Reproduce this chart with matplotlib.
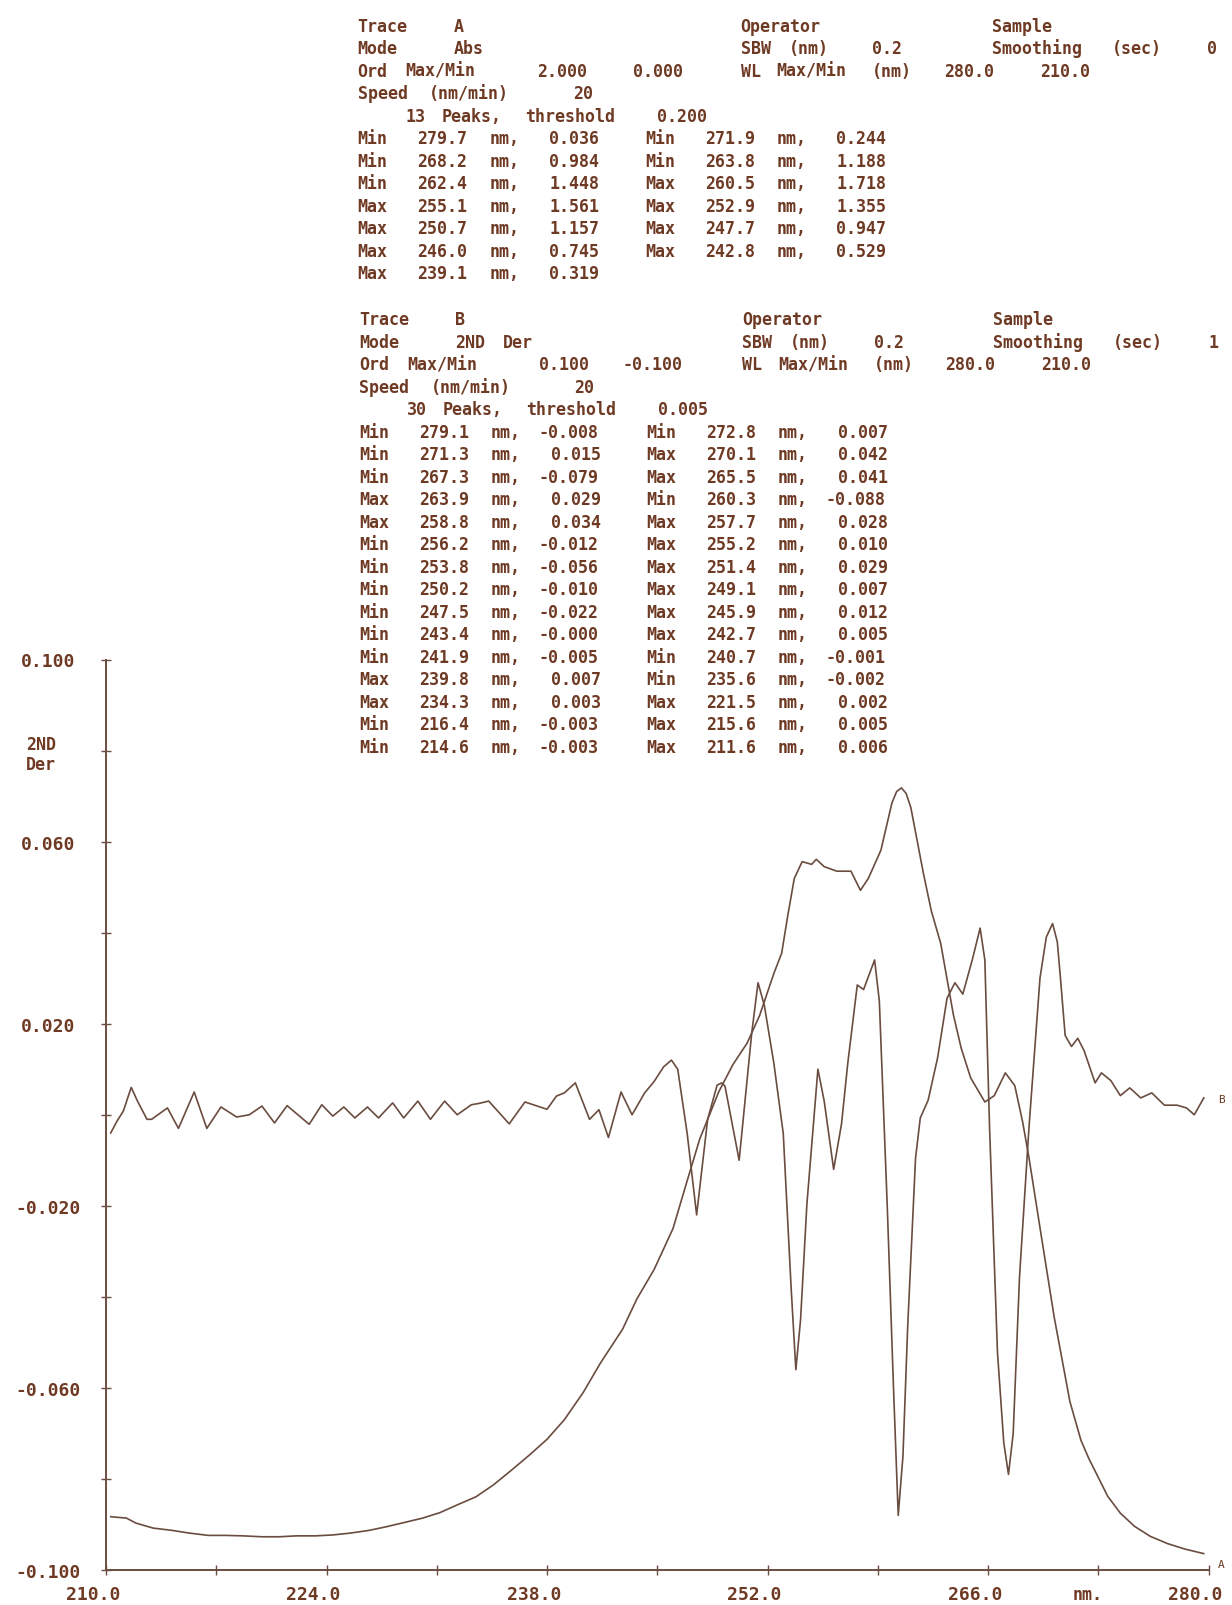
import re
import matplotlib
matplotlib.use("Agg")
import matplotlib.pyplot as plt
import matplotlib.transforms as mtransforms
from matplotlib.ticker import MultipleLocator, FixedLocator, FormatStrFormatter

# ---- trace A : absorbance (0..2 on the same chart height) ----
a_wl = [210.3, 211.3, 211.9, 213.0, 214.2, 215.3, 216.5, 217.6, 218.7, 219.9,
        221.0, 222.1, 223.3, 224.4, 225.5, 226.7, 227.8, 228.9, 230.1, 231.2,
        232.3, 233.5, 234.6, 235.7, 236.9, 238.0, 239.1, 240.3, 241.4, 242.8,
        243.7, 244.8, 246.0, 246.9, 247.7, 248.9, 249.8, 250.7, 251.5, 252.4,
        252.9, 253.3, 253.7, 254.2, 254.8, 255.1, 255.6, 256.4, 257.3, 257.9,
        258.4, 259.2, 259.9, 260.2, 260.5, 260.8, 261.1, 261.9, 262.4, 263.0,
        263.8, 264.3, 264.9, 265.8, 266.4, 267.1, 267.7, 268.2, 268.6, 269.3,
        270.2, 271.2, 271.9, 272.4, 273.6, 274.4, 275.3, 276.3, 277.4, 278.5,
        279.7]
a_abs = [0.117, 0.114, 0.103, 0.092, 0.087, 0.081, 0.076, 0.076, 0.075, 0.073,
         0.073, 0.075, 0.075, 0.077, 0.081, 0.087, 0.095, 0.104, 0.114, 0.126,
         0.143, 0.161, 0.187, 0.218, 0.253, 0.287, 0.330, 0.390, 0.455, 0.529,
         0.595, 0.660, 0.750, 0.855, 0.947, 1.050, 1.110, 1.157, 1.218, 1.310,
         1.355, 1.440, 1.519, 1.556, 1.550, 1.561, 1.545, 1.535, 1.535, 1.493,
         1.519, 1.581, 1.685, 1.710, 1.718, 1.706, 1.675, 1.530, 1.448, 1.376,
         1.220, 1.146, 1.081, 1.028, 1.042, 1.092, 1.064, 0.984, 0.906, 0.752,
         0.556, 0.370, 0.285, 0.245, 0.162, 0.125, 0.096, 0.074, 0.058, 0.046,
         0.036]

# ---- trace B : 2nd derivative ----
b_wl = [210.3, 210.7, 211.1, 211.6, 212.0, 212.6, 212.9, 213.9, 214.6, 215.6,
        216.4, 217.3, 218.3, 219.1, 219.9, 220.7, 221.5, 222.9, 223.7, 224.4,
        225.1, 225.8, 226.6, 227.3, 228.2, 228.9, 229.8, 230.6, 231.5, 232.3,
        233.2, 233.7, 234.3, 235.6, 236.6, 238.0, 238.6, 239.1, 239.8, 240.7,
        241.3, 241.9, 242.7, 243.4, 244.2, 244.8, 245.4, 245.9, 246.3, 246.9,
        247.5, 248.2, 248.8, 249.1, 249.3, 250.2, 251.0, 251.4, 251.8, 252.4,
        253.0, 253.5, 253.8, 254.1, 254.5, 255.2, 255.6, 256.2, 256.7, 257.1,
        257.7, 258.1, 258.8, 259.1, 259.6, 260.0, 260.3, 260.6, 260.9, 261.4,
        261.7, 262.2, 262.8, 263.4, 263.9, 264.4, 265.0, 265.5, 265.8, 266.1,
        266.6, 267.0, 267.3, 267.6, 268.0, 268.6, 269.3, 269.7, 270.1, 270.4,
        270.6, 270.9, 271.3, 271.7, 272.1, 272.8, 273.2, 273.8, 274.4, 275.0,
        275.7, 276.4, 277.2, 278.0, 278.6, 279.1, 279.7]
b_der = [-0.0040, -0.0014, 0.0008, 0.0060, 0.0030, -0.0010, -0.0010, 0.0015, -0.0030, 0.0050,
         -0.0030, 0.0017, -0.0005, 0.0000, 0.0019, -0.0018, 0.0020, -0.0021, 0.0022, -0.0003,
         0.0017, -0.0007, 0.0017, -0.0007, 0.0026, -0.0007, 0.0030, -0.0010, 0.0030, 0.0000,
         0.0022, 0.0025, 0.0030, -0.0020, 0.0028, 0.0012, 0.0041, 0.0048, 0.0070, -0.0010,
         0.0011, -0.0050, 0.0050, 0.0000, 0.0048, 0.0073, 0.0105, 0.0120, 0.0100, -0.0041,
         -0.0220, -0.0010, 0.0065, 0.0070, 0.0063, -0.0100, 0.0180, 0.0290, 0.0240, 0.0114,
         -0.0041, -0.0380, -0.0560, -0.0450, -0.0197, 0.0100, 0.0030, -0.0120, -0.0020, 0.0114,
         0.0285, 0.0275, 0.0340, 0.0250, -0.0197, -0.0600, -0.0880, -0.0750, -0.0466, -0.0095,
         -0.0007, 0.0032, 0.0125, 0.0256, 0.0290, 0.0265, 0.0340, 0.0410, 0.0340, -0.0029,
         -0.0521, -0.0720, -0.0790, -0.0700, -0.0357, -0.0029, 0.0300, 0.0390, 0.0420, 0.0380,
         0.0300, 0.0174, 0.0150, 0.0168, 0.0141, 0.0070, 0.0092, 0.0075, 0.0042, 0.0059,
         0.0037, 0.0048, 0.0021, 0.0021, 0.0015, 0.0000, 0.0037]

# ---- peak tables printed above the chart ----
a_peak_kind = ['Min', 'Min', 'Min', 'Min', 'Min', 'Max', 'Max', 'Max', 'Max', 'Max', 'Max', 'Max', 'Max']
a_peak_wl = [279.7, 271.9, 268.2, 263.8, 262.4, 260.5, 255.1, 252.9, 250.7, 247.7, 246.0, 242.8, 239.1]
a_peak_val = [0.036, 0.244, 0.984, 1.188, 1.448, 1.718, 1.561, 1.355, 1.157, 0.947, 0.745, 0.529, 0.319]

b_peak_kind = ['Min', 'Min', 'Min', 'Max', 'Min', 'Max', 'Max', 'Min', 'Max', 'Max',
               'Min', 'Max', 'Min', 'Max', 'Min', 'Max', 'Min', 'Max', 'Min', 'Max',
               'Min', 'Min', 'Max', 'Min', 'Max', 'Max', 'Min', 'Max', 'Min', 'Max']
b_peak_wl = [279.1, 272.8, 271.3, 270.1, 267.3, 265.5, 263.9, 260.3, 258.8, 257.7,
             256.2, 255.2, 253.8, 251.4, 250.2, 249.1, 247.5, 245.9, 243.4, 242.7,
             241.9, 240.7, 239.8, 235.6, 234.3, 221.5, 216.4, 215.6, 214.6, 211.6]
b_peak_val = [-0.008, 0.007, 0.015, 0.042, -0.079, 0.041, 0.029, -0.088, 0.034, 0.028,
              -0.012, 0.010, -0.056, 0.029, -0.010, 0.007, -0.022, 0.012, -0.0, 0.005,
              -0.005, -0.001, 0.007, -0.002, 0.003, 0.002, -0.003, 0.005, -0.003, 0.006]

hdr_a = [
    [(0, 'Trace'), (8, 'A'), (32, 'Operator'), (53, 'Sample')],
    [(0, 'Mode'), (8, 'Abs'), (32, 'SBW (nm)'), (43, '0.2'), (53, 'Smoothing (sec)'), (71, '0')],
    [(0, 'Ord Max/Min'), (15, '2.000'), (23, '0.000'), (32, 'WL Max/Min (nm)'), (49, '280.0'), (57, '210.0')],
    [(0, 'Speed (nm/min)'), (18, '20')],
    [(4, '13 Peaks, threshold'), (25, '0.200')],
]
hdr_b = [
    [(0, 'Trace'), (8, 'B'), (32, 'Operator'), (53, 'Sample')],
    [(0, 'Mode'), (8, '2ND Der'), (32, 'SBW (nm)'), (43, '0.2'), (53, 'Smoothing (sec)'), (71, '1')],
    [(0, 'Ord Max/Min'), (15, '0.100'), (22, '-0.100'), (32, 'WL Max/Min (nm)'), (49, '280.0'), (57, '210.0')],
    [(0, 'Speed (nm/min)'), (18, '20')],
    [(4, '30 Peaks, threshold'), (25, '0.005')],
]

W, H = 1232, 1606
ink = '#6a4c40'
txt = '#6e3a24'
mono = 'DejaVu Sans Mono'

fig = plt.figure(figsize=(W / 100, H / 100), dpi=100)
fig.patch.set_facecolor('white')


def build_line(fields):
    s = ''
    for col, t in fields:
        s = s.ljust(col) + t
    return s


def peak_rows(kind, wl, val):
    rows = []
    for i in range(0, len(kind), 2):
        s = f"{kind[i]:<5}{wl[i]:5.1f} nm, {val[i]:6.3f}"
        if i + 1 < len(kind):
            s += f"   {kind[i+1]:<5}{wl[i+1]:5.1f} nm, {val[i+1]:6.3f}"
        rows.append(s)
    return rows


def put_block(lines, x0, y0, step=22.5, pitch=11.97):
    # every word goes to its printer column
    for i, line in enumerate(lines):
        y = y0 + i * step
        for m in re.finditer(r'\S+', line):
            fig.text((x0 + m.start() * pitch) / W, 1 - (y + 6) / H, m.group(),
                     ha='left', va='baseline', fontsize=12, family=mono,
                     weight='bold', color=txt)


lines_a = [build_line(f) for f in hdr_a] + peak_rows(a_peak_kind, a_peak_wl, a_peak_val)
lines_b = [build_line(f) for f in hdr_b] + peak_rows(b_peak_kind, b_peak_wl, b_peak_val)
put_block(lines_a, 357.5, 25.7)
put_block(lines_b, 359.0, 319.3)

# ---- chart ----
ax = fig.add_axes([106 / W, 35 / H, 1102.5 / W, 910.5 / H])
ax.set_xlim(210, 280)
ax.set_ylim(-0.1, 0.1)
for side in ['top', 'right']:
    ax.spines[side].set_visible(False)
for side in ['left', 'bottom']:
    ax.spines[side].set_color(ink)
    ax.spines[side].set_linewidth(1.4)

ax.xaxis.set_major_locator(MultipleLocator(14))
ax.xaxis.set_minor_locator(MultipleLocator(7))
ax.xaxis.set_major_formatter(FormatStrFormatter('%.1f'))
ax.yaxis.set_major_locator(FixedLocator([0.1, 0.06, 0.02, -0.02, -0.06, -0.1]))
ax.yaxis.set_minor_locator(MultipleLocator(0.02))
ax.yaxis.set_major_formatter(FormatStrFormatter('%.3f'))
ax.tick_params(which='both', direction='inout', length=7, width=1, color=ink,
               labelcolor=txt, labelsize=13)
ax.tick_params(axis='x', pad=7)
ax.tick_params(axis='y', pad=38)
for lab in ax.get_xticklabels():
    lab.set_fontfamily(mono)
    lab.set_fontweight('bold')
    lab.set_transform(lab.get_transform() + mtransforms.ScaledTranslation(-0.13, 0, fig.dpi_scale_trans))
for lab in ax.get_yticklabels():
    lab.set_fontfamily(mono)
    lab.set_fontweight('bold')
    lab.set_horizontalalignment('center')

ax.plot(b_wl, b_der, color=ink, lw=1.2, clip_on=False, solid_joinstyle='round')
ax.annotate('B', xy=(b_wl[-1], b_der[-1]), xytext=(14, -1), textcoords='offset pixels',
            ha='left', va='center', fontsize=8, family=mono, color=txt)

ax2 = ax.twinx()
ax2.set_ylim(0, 2)
ax2.axis('off')
ax2.plot(a_wl, a_abs, color=ink, lw=1.2, clip_on=False, solid_joinstyle='round')
ax2.annotate('A', xy=(a_wl[-1], a_abs[-1]), xytext=(14, -10), textcoords='offset pixels',
             ha='left', va='center', fontsize=8, family=mono, color=txt)

fig.text(41 / W, 1 - 745 / H, '2ND', ha='center', va='center', fontsize=12,
         family=mono, weight='bold', color=txt)
fig.text(41 / W, 1 - 765 / H, 'Der', ha='center', va='center', fontsize=12,
         family=mono, weight='bold', color=txt)
fig.text(1088 / W, 1 - 1595 / H, 'nm.', ha='center', va='center', fontsize=12,
         family=mono, weight='bold', color=txt)

fig.savefig('out.png', dpi=100, facecolor='white')
